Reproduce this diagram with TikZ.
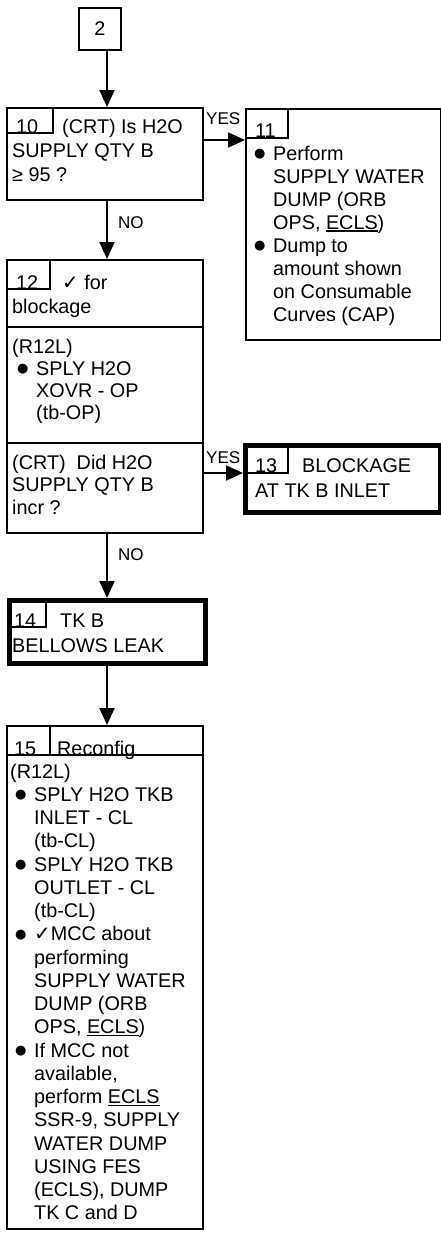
\documentclass[tikz,border=0pt]{standalone}
\usepackage{fontspec}
\setmainfont{Liberation Sans}
\newfontfamily\dejavu{DejaVu Sans}
\usetikzlibrary{arrows.meta}
\newlength\hang
\setlength\hang{24pt}
\newcommand\bl{\makebox[\hang][l]{\hspace{5pt}\raisebox{2.5pt}{\dejavu\fontsize{13}{13}\selectfont ●}}}
\newcommand\hi{\hspace*{\hang}}
\newcommand\ck{{\dejavu ✓}}
\newcommand\ulx[1]{\setbox0\hbox{#1}\rlap{\rule[-2.6pt]{\wd0}{1.6pt}}\box0}
\begin{document}
\begin{tikzpicture}[x=1pt,y=-1pt,
  box/.style={draw,line width=2pt,inner sep=0pt,anchor=north west},
  thickbox/.style={draw,line width=5pt,inner sep=0pt,anchor=north west},
  txt/.style={anchor=base west,inner sep=0pt,font=\fontsize{19.8}{23.2}\selectfont},
  lbl/.style={anchor=base west,inner sep=0pt,font=\fontsize{17}{17}\selectfont},
  arr/.style={line width=2pt,-{Triangle[length=17pt,width=15pt]}},
  part/.style={line width=2pt}]
\useasboundingbox (0,0) rectangle (441,1239);
\fill[white] (0,0) rectangle (441,1239);
% boxes
\node[box,minimum width=42pt,minimum height=42pt,font=\fontsize{19.8}{23.2}\selectfont] (b2) at (78,7) {2};
\node[box,minimum width=196pt,minimum height=92pt] (b10) at (6,107) {};
\node[box,minimum width=195pt,minimum height=231pt] (b11) at (245,108) {};
\node[box,minimum width=196pt,minimum height=273pt] (b12) at (6,259) {};
\node[thickbox,minimum width=194.5pt,minimum height=67pt] (b13) at (243,443) {};
\node[thickbox,minimum width=196pt,minimum height=63pt] (b14) at (7,598) {};
\node[box,minimum width=196pt,minimum height=503pt] (b15) at (6,725) {};
% inner parts
\draw[part] (53,107) |- (6,133);
\draw[part] (288,108) |- (245,138);
\draw[part] (50,259) |- (6,289);
\draw[part] (6,327) -- (202,327);
\draw[part] (6,443) -- (202,443);
\draw[part] (288,443) |- (243,473);
\draw[part] (46,598) |- (7,627);
\draw[part] (50,725) -- (50,755);
\draw[part] (6,755) -- (202,755);
% numbers
\node[txt] (n10) at (16,133) {10};
\node[txt] (n11) at (255,137) {11};
\node[txt] (n12) at (16,289) {12};
\node[txt] (n13) at (255,472) {13};
\node[txt] (n14) at (14,627) {14};
\node[txt] (n15) at (14,755) {15};
% texts
\node[txt,font=\fontsize{19.8}{24}\selectfont] (t10) at (12,133) {\parbox[t]{190pt}{\raggedright\hspace*{50pt}(CRT) Is H2O\\ SUPPLY QTY B\\ ≥ 95 ?}};
\node[txt,font=\fontsize{19.8}{23.1}\selectfont] (t11) at (249,160) {\parbox[t]{190pt}{\raggedright
\bl Perform\\ \hi SUPPLY WATER\\ \hi DUMP (ORB\\ \hi OPS, \ulx{ECLS})\\ \bl Dump to\\ \hi amount shown\\ \hi on Consumable\\ \hi Curves (CAP)}};
\node[txt,font=\fontsize{19.8}{24}\selectfont] (t12a) at (12,289) {\parbox[t]{190pt}{\raggedright\hspace*{50pt}\ck\ for\\ blockage}};
\node[txt,font=\fontsize{19.8}{22.3}\selectfont] (t12b) at (12,353) {\parbox[t]{190pt}{\raggedright (R12L)\\ \bl SPLY H2O\\ \hi XOVR - OP\\ \hi (tb-OP)}};
\node[txt,font=\fontsize{19.8}{22.5}\selectfont] (t12c) at (12,469) {\parbox[t]{190pt}{\raggedright (CRT)\ \ Did H2O\\ SUPPLY QTY B\\ incr ?}};
\node[txt,font=\fontsize{19.8}{25}\selectfont] (t13) at (255,472) {\parbox[t]{180pt}{\raggedright\hspace*{47pt}BLOCKAGE\\ AT TK B INLET}};
\node[txt,font=\fontsize{19.8}{25}\selectfont] (t14) at (12,627) {\parbox[t]{190pt}{\raggedright\hspace*{48pt}TK B\\ BELLOWS LEAK}};
\node[txt] (t15a) at (57,755) {Reconfig};
\node[txt,font=\fontsize{19.8}{23.26}\selectfont] (t15b) at (10,778) {\parbox[t]{190pt}{\raggedright
(R12L)\\
\bl SPLY H2O TKB\\
\hi INLET - CL\\
\hi (tb-CL)\\
\bl SPLY H2O TKB\\
\hi OUTLET - CL\\
\hi (tb-CL)\\
\bl \ck MCC about\\
\hi performing\\
\hi SUPPLY WATER\\
\hi DUMP (ORB\\
\hi OPS, \ulx{ECLS})\\
\bl If MCC not\\
\hi available,\\
\hi perform \ulx{ECLS}\\
\hi SSR-9, SUPPLY\\
\hi WATER DUMP\\
\hi USING FES\\
\hi (ECLS), DUMP\\
\hi TK C and D}};
% connectors
\coordinate (col) at (107,0);
\coordinate (y1) at (0,140);
\coordinate (y2) at (0,473);
\draw[arr] (b2.south -| col) -- (b10.north -| col);
\draw[arr] (b10.south -| col) -- (b12.north -| col);
\draw[arr] (b12.south -| col) -- (b14.north -| col);
\draw[arr] (b14.south -| col) -- (b15.north -| col);
\draw[arr] (b10.east |- y1) -- (b11.west |- y1);
\draw[arr] (b12.east |- y2) -- (b13.west |- y2);
% labels
\node[lbl] (yes1) at (206,124) {YES};
\node[lbl] (yes2) at (206,463) {YES};
\node[lbl] (no1) at (118,228) {NO};
\node[lbl] (no2) at (118,560) {NO};
\end{tikzpicture}
\end{document}
